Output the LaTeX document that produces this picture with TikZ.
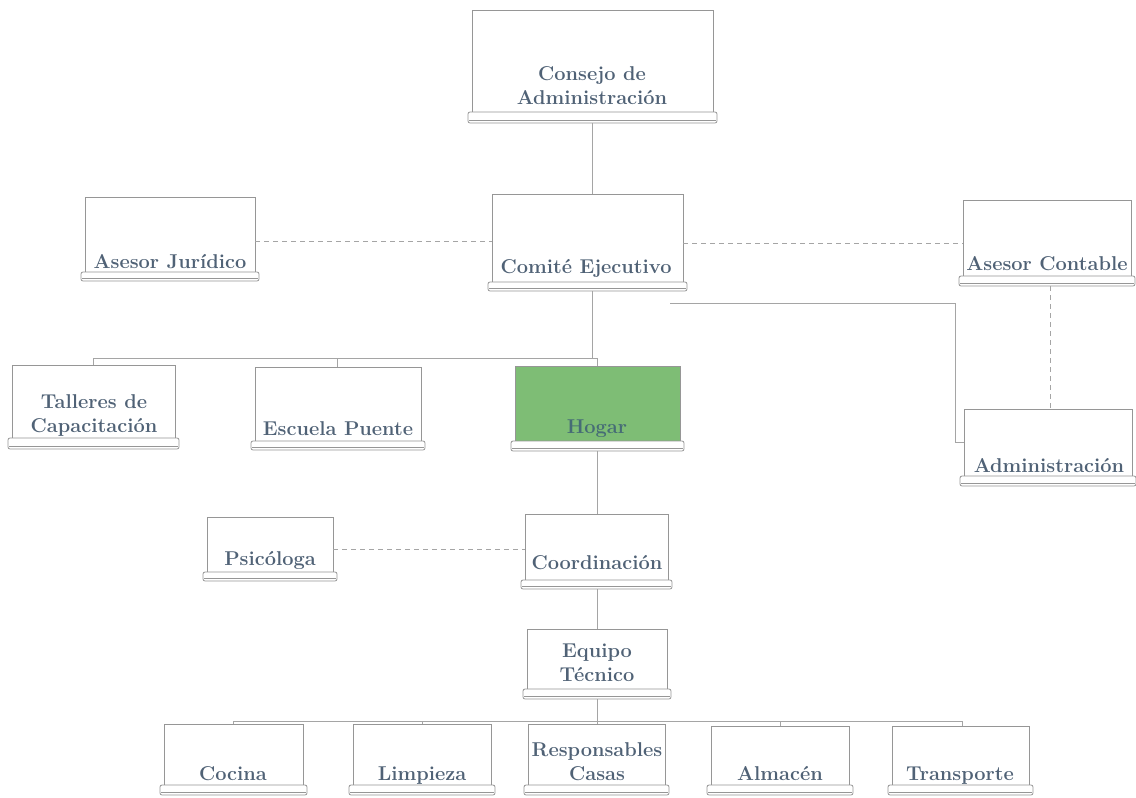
\documentclass[tikz,border=0pt]{standalone}
\usetikzlibrary{fit}
\definecolor{boxline}{RGB}{150,150,150}
\definecolor{conn}{RGB}{165,165,165}
\definecolor{txtc}{RGB}{80,98,118}
\definecolor{hogarg}{RGB}{126,189,117}
\definecolor{hogart}{RGB}{70,108,118}
\tikzset{
  boxrect/.style={draw=boxline, line width=0.8pt, inner sep=0pt, fill=white},
  basebar/.style={draw=boxline, line width=0.8pt, inner sep=0pt, rounded corners=2pt, fill=white},
  boxtxt/.style={font=\bfseries\fontsize{20}{24}\selectfont, text=txtc, align=center, inner sep=0pt, anchor=base},
  conline/.style={draw=conn, line width=0.8pt},
  dashline/.style={draw=conn, line width=0.8pt, dash pattern=on 5pt off 4pt},
}
% #1 name, #2 x1, #3 y1, #4 x2, #5 y2 (top of base), #6 base bottom, #7 extra style
\newcommand\obox[7]{%
  \node[boxrect, #7, fit={(#2,#3) (#4,#5)}] (#1) {};
  \node[basebar, fit={({#2-4},#5) ({#4+4},#6)}] (#1b) {};
  \draw[boxline, line width=0.6pt] ([xshift=1.5pt,yshift=3pt]#1b.south west) -- ([xshift=-1.5pt,yshift=3pt]#1b.south east);
}
\begin{document}
\begin{tikzpicture}[x=1pt,y=-1pt]
\useasboundingbox (0,0) rectangle (1136,798);
% boxes
\obox{consejo}{472}{10}{713}{112}{123}{}
\obox{comite}{492}{194}{683}{282}{291}{}
\obox{jur}{85}{197}{255}{272}{281}{}
\obox{contable}{963}{200}{1131}{276}{286}{}
\obox{admin}{964}{409}{1132}{476}{486}{}
\obox{talleres}{12}{365}{175}{438}{449}{}
\obox{escuela}{255}{367}{421}{441}{450}{}
\obox{hogar}{515}{366}{680}{441}{451}{fill=hogarg}
\obox{psico}{207}{517}{333}{572}{581}{}
\obox{coord}{525}{514}{668}{580}{589}{}
\obox{equipo}{527}{629}{667}{689}{699}{}
\obox{cocina}{164}{724}{303}{785}{795}{}
\obox{limpieza}{353}{724}{491}{785}{795}{}
\obox{resp}{528}{724}{665}{785}{795}{}
\obox{almacen}{711}{726}{849}{785}{795}{}
\obox{transporte}{892}{726}{1029}{785}{795}{}
% texts (anchor base = baseline of last line)
\node[boxtxt] (tconsejo) at (592,104) {Consejo de\\Administración};
\node[boxtxt] (tcomite) at (586,273) {Comité Ejecutivo};
\node[boxtxt] (tjur) at (170,268) {Asesor Jurídico};
\node[boxtxt] (tcontable) at (1047,270) {Asesor Contable};
\node[boxtxt] (tadmin) at (1049,472) {Administración};
\node[boxtxt] (ttalleres) at (94,432) {Talleres de\\Capacitación};
\node[boxtxt] (tescuela) at (338,435) {Escuela Puente};
\node[boxtxt, text=hogart] (thogar) at (597,433) {Hogar};
\node[boxtxt] (tpsico) at (270,565) {Psicóloga};
\node[boxtxt] (tcoord) at (597,569) {Coordinación};
\node[boxtxt] (tequipo) at (597,681) {Equipo\\Técnico};
\node[boxtxt] (tcocina) at (233,780) {Cocina};
\node[boxtxt] (tlimpieza) at (422,780) {Limpieza};
\node[boxtxt] (tresp) at (597,780) {Responsables\\Casas};
\node[boxtxt] (talmacen) at (780,780) {Almacén};
\node[boxtxt] (ttransporte) at (960,780) {Transporte};
% connectors
\coordinate (j1) at (592,358);
\coordinate (j2) at (597,721);
\coordinate (c1) at (670,303);
\coordinate (c2) at (955,303);
\draw[conline] (consejob.south -| j1) -- (comite.north -| j1);
\draw[dashline] (jur.east |- 0,241) -- (comite.west |- 0,241);
\draw[dashline] (comite.east |- 0,243) -- (contable.west |- 0,243);
\draw[conline] (comiteb.south -| j1) -- (j1);
\draw[conline] (talleres.north -| 93,0) -- (93,358) -- (597,358) -- (hogar.north -| 597,0);
\draw[conline] (escuela.north -| 337,0) -- (337,358);
\draw[conline] (c1) -- (c2) |- (admin.west);
\draw[dashline] (contableb.south -| 1050,0) -- (admin.north -| 1050,0);
\draw[conline] (hogarb.south -| j2) -- (coord.north -| j2);
\draw[dashline] (psico.east |- 0,549) -- (coord.west |- 0,549);
\draw[conline] (coordb.south -| j2) -- (equipo.north -| j2);
\draw[conline] (equipob.south -| j2) -- (j2);
\draw[conline] (cocina.north -| 233,0) -- (233,721) -- (962,721) -- (transporte.north -| 962,0);
\draw[conline] (limpieza.north -| 422,0) -- (422,721);
\draw[conline] (resp.north -| j2) -- (j2);
\draw[conline] (almacen.north -| 780,0) -- (780,721);
\end{tikzpicture}
\end{document}
